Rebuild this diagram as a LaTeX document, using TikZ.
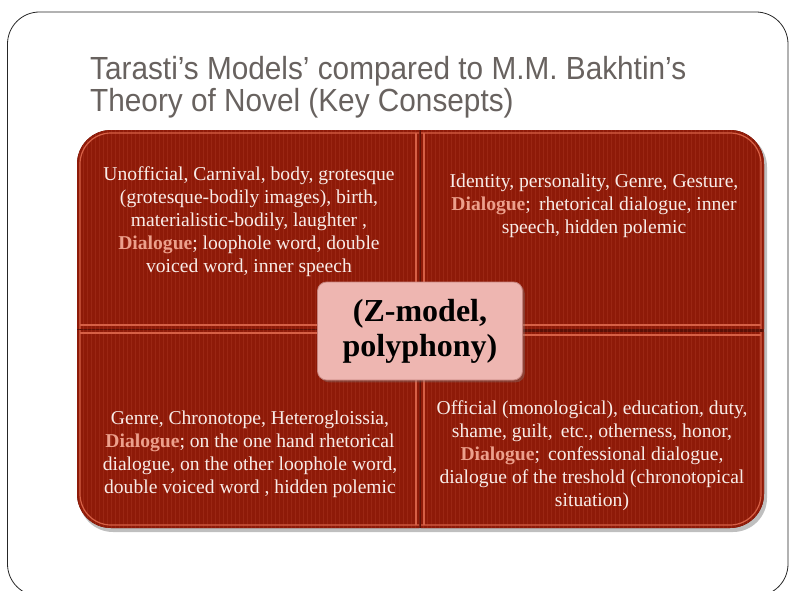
\documentclass[tikz,border=0pt]{standalone}
\usepackage{fontspec}
\setmainfont{Liberation Serif}
\newfontfamily\titlefont[FakeStretch=0.93]{Liberation Sans}
\usepackage{xcolor}
\usepackage{tikz}
\usetikzlibrary{positioning,shadows}
\definecolor{brick}{RGB}{142,26,8}
\definecolor{brickgap}{RGB}{92,16,6}
\definecolor{brickedge}{RGB}{214,96,70}
\definecolor{salmon}{RGB}{236,160,140}
\definecolor{textwhite}{RGB}{248,236,232}
\definecolor{pinkbox}{RGB}{238,182,177}
\definecolor{hubedge}{RGB}{196,130,124}
\definecolor{titlegray}{RGB}{104,98,95}
\newcommand{\dialogueword}{\textbf{\textcolor{salmon}{Dialogue}}}

\begin{document}
\begin{tikzpicture}[x=1pt, y=-1pt,
    frame/.style={draw=black!85, line width=0.8pt, rounded corners=32pt},
    quadfill/.style={fill=brick},
    quadrim/.style={draw=brickedge, line width=1.2pt},
    stripe/.style={draw=brickedge, opacity=0.18, line width=0.5pt},
    quadtext/.style={text=textwhite, align=center, inner sep=0pt, font=\fontsize{19.6}{23}\selectfont},
    hubbox/.style={draw=hubedge, fill=pinkbox, rounded corners=9pt, line width=0.8pt, minimum width=205pt, minimum height=98pt, align=center, font=\bfseries\fontsize{32}{35}\selectfont, drop shadow={opacity=0.35}},
    titletext/.style={text=titlegray, anchor=base west, inner sep=0pt, font=\titlefont\fontsize{32}{32}\selectfont}]
    \useasboundingbox (0,0) rectangle (789,591);

    % slide frame
    \begin{scope}
        \clip (0,0) rectangle (789,591);
        \draw[frame] (7.5,12) rectangle (788,596);
    \end{scope}

    % title
    \node[titletext] (titleone) at (90,80) {Tarasti’s Models’ compared to M.M. Bakhtin’s};
    \node[titletext] (titletwo) at (90,112) {Theory of Novel (Key Consepts)};

    % shadow and gaps under the four quadrants
    \fill[black, opacity=0.25, rounded corners=34pt] (79,133) rectangle (767,532);
    \fill[brickgap, rounded corners=34pt] (77,130) rectangle (764,528);

    % top left
    \begin{scope}
        \clip (77,130) rectangle (419,328);
        \fill[quadfill, rounded corners=34pt] (77,130) rectangle (500,400);
        \draw[quadrim, rounded corners=31pt] (80,133) rectangle (500,400);
        \draw[quadrim] (416,133) -- (416,325) -- (80,325);
    \end{scope}
    % top right
    \begin{scope}
        \clip (421,130) rectangle (764,328);
        \fill[quadfill, rounded corners=34pt] (340,130) rectangle (764,400);
        \draw[quadrim, rounded corners=31pt] (340,133) rectangle (761,400);
        \draw[quadrim] (424,133) -- (424,325) -- (761,325);
    \end{scope}
    % bottom left
    \begin{scope}
        \clip (77,330) rectangle (419,528);
        \fill[quadfill, rounded corners=34pt] (77,260) rectangle (500,528);
        \draw[quadrim, rounded corners=31pt] (80,260) rectangle (500,525);
        \draw[quadrim] (80,333) -- (416,333) -- (416,525);
    \end{scope}
    % bottom right
    \begin{scope}
        \clip (421,332) rectangle (764,528);
        \fill[quadfill, rounded corners=34pt] (340,260) rectangle (764,528);
        \draw[quadrim, rounded corners=31pt] (340,260) rectangle (761,525);
        \draw[quadrim] (424,525) -- (424,335) -- (761,335);
    \end{scope}

    % pinstripes
    \begin{scope}
        \clip[rounded corners=34pt] (77,130) rectangle (764,528);
        \foreach \sx in {79,83,...,763}
            \draw[stripe] (\sx,130) -- (\sx,528);
    \end{scope}

    % quadrant texts
    \node[quadtext] (unofficial) at (249,222) {Unofficial, Carnival, body, grotesque\\(grotesque-bodily images), birth,\\materialistic-bodily, laughter ,\\\dialogueword; loophole word, double\\voiced word, inner speech};
    \node[quadtext] (identity) at (594,206) {Identity, personality, Genre, Gesture,\\\dialogueword;\, rhetorical dialogue, inner\\speech, hidden polemic};
    \node[quadtext] (genre) at (250,454) {Genre, Chronotope, Heterogloissia,\\\dialogueword; on the one hand rhetorical\\dialogue, on the other loophole word,\\double voiced word , hidden polemic};
    \node[quadtext] (official) at (592,456) {Official (monological), education, duty,\\shame, guilt,\, etc., otherness, honor,\\\dialogueword;\, confessional dialogue,\\dialogue of the treshold (chronotopical\\situation)};

    % centre
    \node[hubbox] (zmodel) at (420,331) {(Z-model,\\polyphony)};
\end{tikzpicture}
\end{document}
